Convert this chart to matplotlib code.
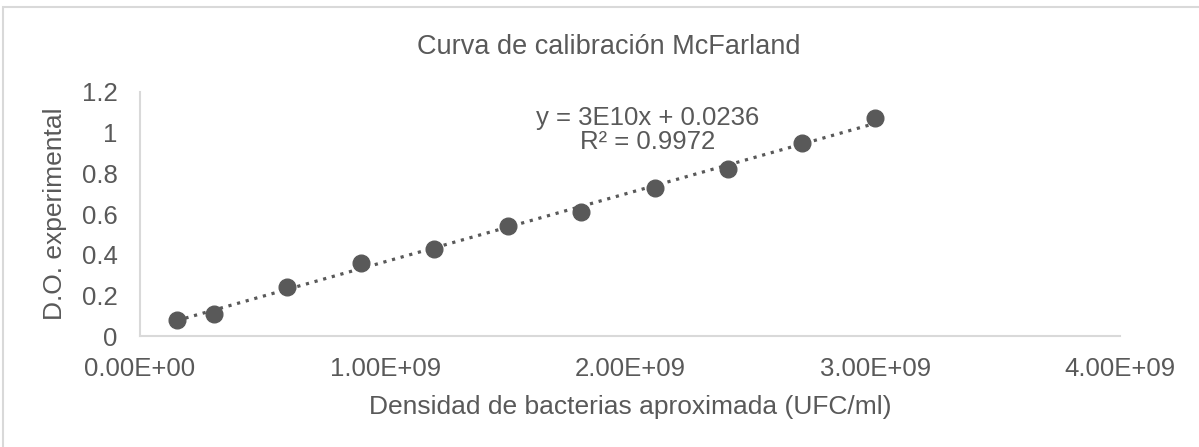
import numpy as np
import matplotlib
matplotlib.use("Agg")
import matplotlib.pyplot as plt
from matplotlib.patches import Rectangle
from matplotlib.ticker import FuncFormatter

plt.rcParams["font.family"] = ["Liberation Sans", "DejaVu Sans"]

# McFarland standards: approximate density (UFC/ml) vs measured D.O.
densidad = [1.5e8, 3.0e8, 6.0e8, 9.0e8, 1.2e9, 1.5e9, 1.8e9, 2.1e9, 2.4e9, 2.7e9, 3.0e9]
do_exp = [0.08, 0.11, 0.24, 0.36, 0.43, 0.54, 0.61, 0.73, 0.82, 0.95, 1.07]

x_ticks = [0, 1e9, 2e9, 3e9, 4e9]
y_ticks = [0, 0.2, 0.4, 0.6, 0.8, 1, 1.2]

gris = "#595959"
linea = "#d9d9d9"
fs = 18.5

fig = plt.figure(figsize=(11.99, 4.47), dpi=100)
ax = fig.add_axes([0.1168, 0.2483, 0.8175, 0.5459])

# trend line from least squares fit
m, b = np.polyfit(densidad, do_exp, 1)
xs = np.array([densidad[0], densidad[-1]])
ax.plot(xs, m * xs + b, linestyle=(0, (1, 1.8)), color=gris, linewidth=2.3, zorder=2)
ax.plot(densidad, do_exp, "o", color=gris, markersize=12, zorder=3)

ax.set_xlim(0, 4e9)
ax.set_ylim(0, 1.2)
ax.set_xticks(x_ticks)
ax.set_yticks(y_ticks)
ax.xaxis.set_major_formatter(FuncFormatter(lambda v, p: f"{v:.2E}"))
ax.yaxis.set_major_formatter(FuncFormatter(lambda v, p: f"{v:g}"))
ax.tick_params(length=0, labelsize=fs, labelcolor=gris)
ax.tick_params(axis="x", pad=15)
ax.tick_params(axis="y", pad=16)

for side in ["top", "right"]:
    ax.spines[side].set_visible(False)
ax.spines["left"].set_color(linea)
ax.spines["bottom"].set_color(linea)
ax.spines["left"].set_linewidth(1.5)
ax.spines["bottom"].set_linewidth(1.5)

ax.set_xlabel("Densidad de bacterias aproximada (UFC/ml)", fontsize=19, color=gris, labelpad=10)
ax.set_ylabel("D.O. experimental", fontsize=19, color=gris, labelpad=11)
fig.text(609 / 1199, 1 - 47 / 447, "Curva de calibración McFarland", ha="center", va="center",
         fontsize=19.5, color=gris)

ax.text(2.07e9, 1.015, "y = 3E10x + 0.0236\nR² = 0.9972", ha="center", va="center",
        fontsize=fs, color=gris, linespacing=1.0)

fig.patches.append(Rectangle((3 / 1199, -0.05), 1.1, 1 - 7 / 447 + 0.05, transform=fig.transFigure,
                             fill=False, edgecolor=linea, linewidth=1.5))

fig.savefig("out.png", dpi=100)
